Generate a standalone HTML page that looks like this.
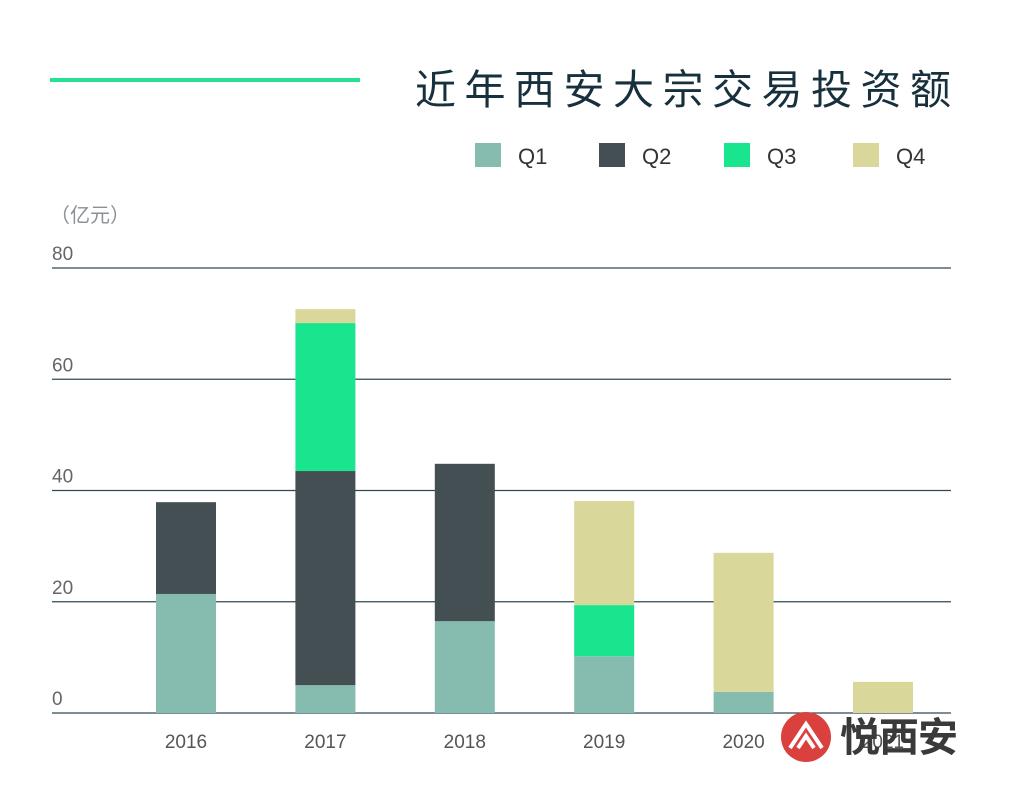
<!DOCTYPE html>
<html><head><meta charset="utf-8"><style>
body{margin:0;background:#fff;width:1011px;height:791px;overflow:hidden;font-family:"Liberation Sans","Noto Sans CJK SC",sans-serif}
</style></head><body>
<svg width="1011" height="791" id="c">
<line x1="50" y1="80" x2="360" y2="80" stroke="#27e090" stroke-width="4"/>
<text x="415" y="104" font-size="41" fill="#17303d" letter-spacing="8.5" font-family="Noto Sans CJK SC,sans-serif">近年西安大宗交易投资额</text>
<text x="50" y="222" font-size="20" fill="#8a9094" font-family="Noto Sans CJK SC,sans-serif">（亿元）</text>
<g id="legend"></g><g id="grid"></g><g id="bars"></g><g id="xl"></g>
<g>
<circle cx="806" cy="737" r="25" fill="#d9403e"/>
<path d="M790 748 L806 724 L822 748 M798 748 L806 736 L814 748" stroke="#fff" stroke-width="4" fill="none"/>
<text x="840" y="751" font-size="40" font-weight="bold" fill="#3a3a3a" letter-spacing="-1" font-family="Noto Sans CJK SC,sans-serif">悦西安</text>
</g>
</svg>
<script>
const years=["2016","2017","2018","2019","2020","2021"];
const q1=[21.4,5.0,16.5,10.2,3.8,0];
const q2=[16.5,38.5,28.3,0,0,0];
const q3=[0,26.6,0,9.2,0,0];
const q4=[0,2.5,0,18.7,25.0,5.6];
const ticks=[0,20,40,60,80];
const series=[q1,q2,q3,q4];
const names=["Q1","Q2","Q3","Q4"];
const colors=["#86bcb0","#434f53","#1ae58f","#dad79b"];
const NS="http://www.w3.org/2000/svg";
const y=v=>713-v*5.5625, x=i=>186+i*139.4;
function mk(p,t,a){const e=document.createElementNS(NS,t);for(const k in a)e.setAttribute(k,a[k]);document.getElementById(p).appendChild(e);return e;}
ticks.forEach(t=>{
 const l=mk("grid","line",{x1:52,x2:951,y1:y(t),y2:y(t),stroke:"#2f4a55","stroke-width":1.2});
 
 
 const tx=mk("grid","text",{x:52,y:y(t)-8,"font-size":19,fill:"#666"});tx.textContent=t;
 
 
});
years.forEach((yr,i)=>{
 let base=0;
 series.forEach((s,k)=>{
  if(s[i]>0){const r=mk("bars","rect",{x:x(i)-30,width:60,y:y(base+s[i]),height:s[i]*5.5625,fill:colors[k]});
  
  }
  base+=s[i];
 });
 const t=mk("xl","text",{x:x(i),y:748,"text-anchor":"middle","font-size":19,fill:"#555"});t.textContent=yr;
 
 
});
const lx=[475,599,724,853];
names.forEach((n,k)=>{
 const r=mk("legend","rect",{x:lx[k],y:143,width:26,height:24,fill:colors[k]});
 
 
 const t=mk("legend","text",{x:lx[k]+43,y:164,"font-size":22,fill:"#333"});t.textContent=n;
 
 
});
</script>
</body></html>
